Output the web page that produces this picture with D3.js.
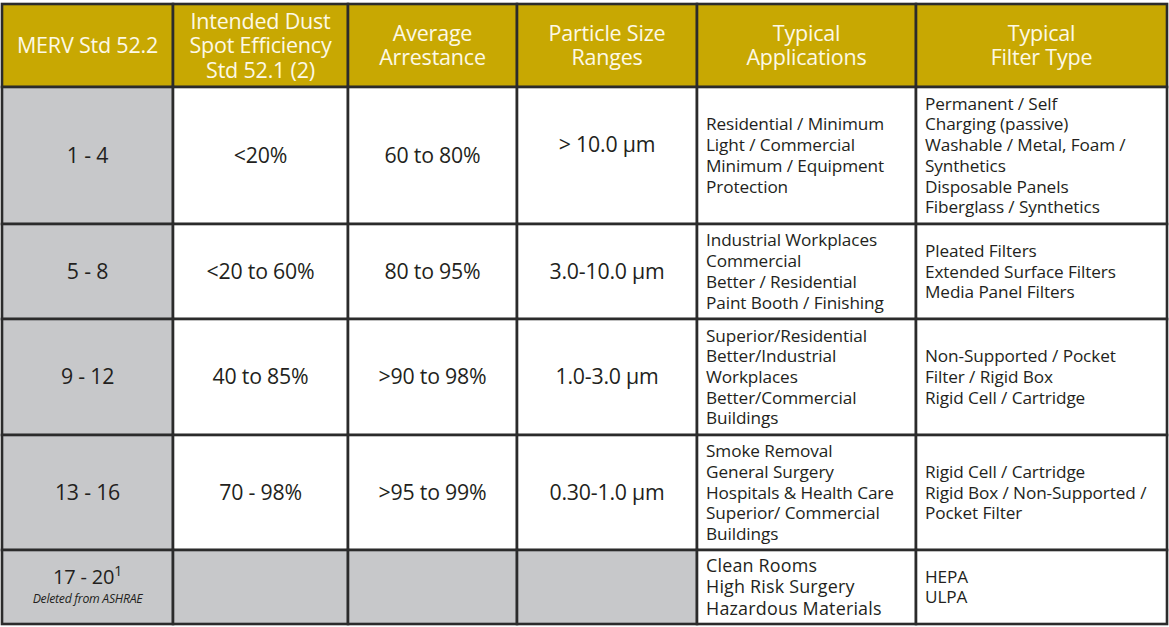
<!DOCTYPE html>
<html>
<head>
<meta charset="utf-8">
<script src="https://cdn.jsdelivr.net/npm/d3@7"></script>
<style>
  body { margin: 0; background: #fff; }
  svg { display: block; }
</style>
</head>
<body>
<div id="chart"></div>
<script>
// table content
const headers = [
  ["MERV Std 52.2"],
  ["Intended Dust", "Spot Efficiency", "Std 52.1 (2)"],
  ["Average", "Arrestance"],
  ["Particle Size", "Ranges"],
  ["Typical", "Applications"],
  ["Typical", "Filter Type"]
];
const mervRatings = ["1 - 4", "5 - 8", "9 - 12", "13 - 16", "17 - 20"];
const dustSpot = ["<20%", "<20 to 60%", "40 to 85%", "70 - 98%", ""];
const arrestance = ["60 to 80%", "80 to 95%", ">90 to 98%", ">95 to 99%", ""];
const particleSize = ["> 10.0 µm", "3.0-10.0 µm", "1.0-3.0 µm", "0.30-1.0 µm", ""];
const applications = [
  ["Residential / Minimum", "Light / Commercial", "Minimum / Equipment", "Protection"],
  ["Industrial Workplaces", "Commercial", "Better / Residential", "Paint Booth / Finishing"],
  ["Superior/Residential", "Better/Industrial", "Workplaces", "Better/Commercial", "Buildings"],
  ["Smoke Removal", "General Surgery", "Hospitals & Health Care", "Superior/ Commercial", "Buildings"],
  ["Clean Rooms", "High Risk Surgery", "Hazardous Materials"]
];
const filterTypes = [
  ["Permanent / Self", "Charging (passive)", "Washable / Metal, Foam /", "Synthetics", "Disposable Panels", "Fiberglass / Synthetics"],
  ["Pleated Filters", "Extended Surface Filters", "Media Panel Filters"],
  ["Non-Supported / Pocket", "Filter / Rigid Box", "Rigid Cell / Cartridge"],
  ["Rigid Cell / Cartridge", "Rigid Box / Non-Supported /", "Pocket Filter"],
  ["HEPA", "ULPA"]
];
const footnoteMark = "1";
const deletedNote = "Deleted from ASHRAE";

// layout
const width = 1169, height = 627;
const colEdges = [2, 173, 348, 517, 697, 916, 1167];
const rowEdges = [4, 87, 224, 319, 435, 550, 624];
const gold = "#c8a802", grey = "#c7c8ca", ink = "#231f20", lineColor = "#2b2b2b";
const font = "'Open Sans', 'Noto Sans', sans-serif";

const x = d3.scaleOrdinal().domain(d3.range(6)).range(colEdges.slice(0, 6));
const y = d3.scaleOrdinal().domain(d3.range(6)).range(rowEdges.slice(0, 6));
const colW = i => colEdges[i + 1] - colEdges[i];
const rowH = i => rowEdges[i + 1] - rowEdges[i];

const svg = d3.select("#chart").append("svg")
  .attr("width", width)
  .attr("height", height);

// build cells: row 0 is the header
const cells = [];
headers.forEach((lines, c) => cells.push({ r: 0, c, lines, header: true }));
mervRatings.forEach((m, i) => {
  const r = i + 1;
  cells.push({ r, c: 0, lines: [m], merv: true });
  cells.push({ r, c: 1, lines: dustSpot[i] ? [dustSpot[i]] : [] });
  cells.push({ r, c: 2, lines: arrestance[i] ? [arrestance[i]] : [] });
  cells.push({ r, c: 3, lines: particleSize[i] ? [particleSize[i]] : [], nudge: i === 0 ? -11 : 0 });
  cells.push({ r, c: 4, lines: applications[i], left: true, big: r === 5 });
  cells.push({ r, c: 5, lines: filterTypes[i], left: true });
});

function fontSize(d) {
  if (d.header) return 21.5;
  if (d.big) return 17.9;
  if (d.left) return 17.2;
  if (d.merv && d.r === 5) return 20;
  return 21.3;
}

const cell = svg.selectAll("g.cell")
  .data(cells)
  .join("g")
  .attr("class", "cell")
  .attr("transform", d => `translate(${x(d.c)},${y(d.r)})`);

cell.append("rect")
  .attr("width", d => colW(d.c))
  .attr("height", d => rowH(d.r))
  .attr("fill", d => d.header ? gold : (d.c === 0 || d.lines.length === 0) ? grey : "#fff")
  .attr("stroke", lineColor)
  .attr("stroke-width", 2.6);

cell.filter(d => d.lines.length)
  .append("text")
  .attr("font-family", font)
  .attr("font-size", fontSize)
  .attr("letter-spacing", d => d.left ? (d.big ? 0.2 : -0.1) : -0.2)
  .attr("fill", d => d.header ? "#fdf9e6" : ink)
  .attr("text-anchor", d => d.left ? "start" : "middle")
  .each(function (d) {
    const n = d.lines.length;
    const step = d.header ? 24.5 : d.big ? 21.5 : 20.7;
    const cx = d.left ? 9 : colW(d.c) / 2;
    const cy = rowH(d.r) / 2 + (d.nudge || 0);
    const last = d.merv && d.r === 5;
    d3.select(this).selectAll("tspan")
      .data(d.lines)
      .join("tspan")
      .attr("x", cx)
      .attr("y", (l, i) => cy + (i - (n - 1) / 2) * step + (last ? -10 : 0))
      .attr("dy", "0.35em")
      .text(l => l);
  });

// superscript and note for the deleted 17 - 20 row
const lastRow = cell.filter(d => d.merv && d.r === 5);
lastRow.select("text")
  .append("tspan")
  .attr("dy", "-0.55em")
  .attr("font-size", 14)
  .text(footnoteMark);
lastRow.append("text")
  .attr("x", d => colW(d.c) / 2)
  .attr("y", d => rowH(d.r) / 2 + 12)
  .attr("dy", "0.35em")
  .attr("text-anchor", "middle")
  .attr("font-family", font)
  .attr("font-style", "italic")
  .attr("font-size", 12.3)
  .attr("letter-spacing", -0.3)
  .attr("fill", ink)
  .text(deletedNote);
</script>
</body>
</html>
